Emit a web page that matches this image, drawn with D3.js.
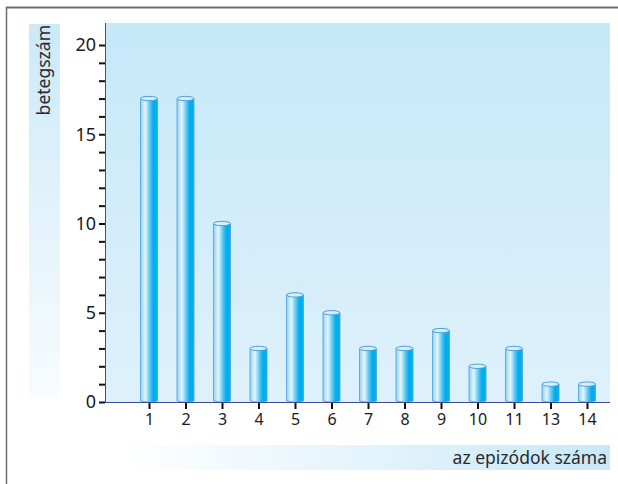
<!DOCTYPE html>
<html>
<head>
<meta charset="utf-8">
<script src="https://cdn.jsdelivr.net/npm/d3@7"></script>
<style>
  body { margin: 0; background: #fff; }
  svg { display: block; font-family: "Noto Sans", "Open Sans", sans-serif; }
</style>
</head>
<body>
<div id="vis"></div>
<script>
// data
const categories = ['1', '2', '3', '4', '5', '6', '7', '8', '9', '10', '11', '13', '14']
const patients = [17, 17, 10, 3, 6, 5, 3, 3, 4, 2, 3, 1, 1]
const yTicks = [0, 5, 10, 15, 20]
const yTitle = 'betegszám'
const xTitle = 'az epizódok száma'

const width = 618
const height = 484

// plot area
const plot = { left: 105, right: 610, top: 23, bottom: 402 }

const svg = d3.select('#vis')
    .append('svg')
    .attr('width', width)
    .attr('height', height)

const defs = svg.append('defs')

// background gradient of the plot
const bg = defs.append('linearGradient')
    .attr('id', 'bg').attr('x1', 0).attr('y1', 0).attr('x2', 0).attr('y2', 1)
bg.append('stop').attr('offset', '0%').attr('stop-color', '#c6e8f9')
bg.append('stop').attr('offset', '100%').attr('stop-color', '#def1fb')

// y title box: blue at top, fading out
const yBox = defs.append('linearGradient')
    .attr('id', 'ybox').attr('x1', 0).attr('y1', 0).attr('x2', 0).attr('y2', 1)
yBox.append('stop').attr('offset', '0%').attr('stop-color', '#cce9f8')
yBox.append('stop').attr('offset', '100%').attr('stop-color', '#f8fcfe')

// x title box: white on the left, blue on the right
const xBox = defs.append('linearGradient')
    .attr('id', 'xbox').attr('x1', 0).attr('y1', 0).attr('x2', 1).attr('y2', 0)
xBox.append('stop').attr('offset', '0%').attr('stop-color', '#ffffff')
xBox.append('stop').attr('offset', '100%').attr('stop-color', '#c8e8f8')

// cylinder body shading
const cyl = defs.append('linearGradient')
    .attr('id', 'cyl').attr('x1', 0).attr('y1', 0).attr('x2', 1).attr('y2', 0)
cyl.append('stop').attr('offset', '0%').attr('stop-color', '#8fd0f2')
cyl.append('stop').attr('offset', '28%').attr('stop-color', '#e6f6fd')
cyl.append('stop').attr('offset', '55%').attr('stop-color', '#5cc8f2')
cyl.append('stop').attr('offset', '75%').attr('stop-color', '#00adee')
cyl.append('stop').attr('offset', '100%').attr('stop-color', '#08b0ee')

// frame: top and left grey lines
svg.append('line')
    .attr('x1', 6).attr('x2', width).attr('y1', 7.5).attr('y2', 7.5)
    .attr('stroke', '#6d6d6d').attr('stroke-width', 2)
svg.append('line')
    .attr('x1', 6.5).attr('x2', 6.5).attr('y1', 7).attr('y2', height)
    .attr('stroke', '#6d6d6d').attr('stroke-width', 1.5)

// title boxes
svg.append('rect')
    .attr('x', 29).attr('y', 24).attr('width', 31).attr('height', 374)
    .attr('fill', 'url(#ybox)')
svg.append('rect')
    .attr('x', 120).attr('y', 445).attr('width', plot.right - 120).attr('height', 25)
    .attr('fill', 'url(#xbox)')

svg.append('text')
    .attr('transform', 'translate(50, 25) rotate(-90)')
    .attr('text-anchor', 'end')
    .attr('font-size', 17.5)
    .attr('fill', '#2a2a2a')
    .text(yTitle)

svg.append('text')
    .attr('x', plot.right - 3).attr('y', 464)
    .attr('text-anchor', 'end')
    .attr('font-size', 17.5)
    .attr('fill', '#2a2a2a')
    .text(xTitle)

// plot background
svg.append('rect')
    .attr('x', plot.left).attr('y', plot.top)
    .attr('width', plot.right - plot.left).attr('height', plot.bottom - plot.top)
    .attr('fill', 'url(#bg)')

// scales
const y = d3.scaleLinear()
    .domain([0, 20])
    .range([plot.bottom, 45])

const x = d3.scalePoint()
    .domain(categories)
    .range([plot.left + 44, plot.right - 23])

const barWidth = 17

// y axis: minor ticks every 1, labels every 5
const yAxis = svg.append('g')
    .attr('transform', `translate(${plot.left},0)`)
    .call(d3.axisLeft(y)
        .tickValues(d3.range(0, 21))
        .tickSize(6)
        .tickFormat(d => yTicks.includes(d) ? d : ''))
yAxis.select('.domain').remove()
yAxis.selectAll('.tick line').attr('stroke', '#111').attr('stroke-width', 2)
yAxis.selectAll('.tick text')
    .attr('font-size', 18)
    .attr('fill', '#1a1a1a')
    .attr('x', -9)
    .attr('font-family', '"Noto Sans", sans-serif')

// vertical axis line
svg.append('line')
    .attr('x1', plot.left + 0.5).attr('x2', plot.left + 0.5)
    .attr('y1', plot.top).attr('y2', plot.bottom)
    .attr('stroke', '#3b4a9c').attr('stroke-width', 1)

// x axis
const xAxis = svg.append('g')
    .attr('transform', `translate(0,${plot.bottom})`)
    .call(d3.axisBottom(x).tickSize(7).tickPadding(5))
xAxis.select('.domain').remove()
xAxis.selectAll('.tick line').attr('stroke', '#111').attr('stroke-width', 2)
xAxis.selectAll('.tick text')
    .attr('font-size', 16)
    .attr('fill', '#1a1a1a')
    .attr('font-family', '"Noto Sans", sans-serif')

// cylinders
const bars = svg.selectAll('.bar')
    .data(categories.map((c, i) => ({ name: c, value: patients[i] })))
    .enter()
    .append('g')
    .attr('class', 'bar')

bars.append('path')
    .attr('d', d => {
        const x0 = x(d.name) - barWidth / 2
        const x1 = x(d.name) + barWidth / 2
        const top = y(d.value)
        const bottom = plot.bottom
        return `M${x0},${top} L${x0},${bottom - 1} Q${x(d.name)},${bottom + 1.5} ${x1},${bottom - 1} L${x1},${top} Z`
    })
    .attr('fill', 'url(#cyl)')
    .attr('stroke', '#4b9fdb')
    .attr('stroke-width', 0.8)

bars.append('ellipse')
    .attr('cx', d => x(d.name))
    .attr('cy', d => y(d.value))
    .attr('rx', barWidth / 2)
    .attr('ry', 2.2)
    .attr('fill', '#d6eefa')
    .attr('stroke', '#4b9fdb')
    .attr('stroke-width', 1)

// x axis line on top of the bar bases
svg.append('line')
    .attr('x1', plot.left).attr('x2', plot.right)
    .attr('y1', plot.bottom + 0.5).attr('y2', plot.bottom + 0.5)
    .attr('stroke', '#3b4a9c').attr('stroke-width', 1.2)
</script>
</body>
</html>
